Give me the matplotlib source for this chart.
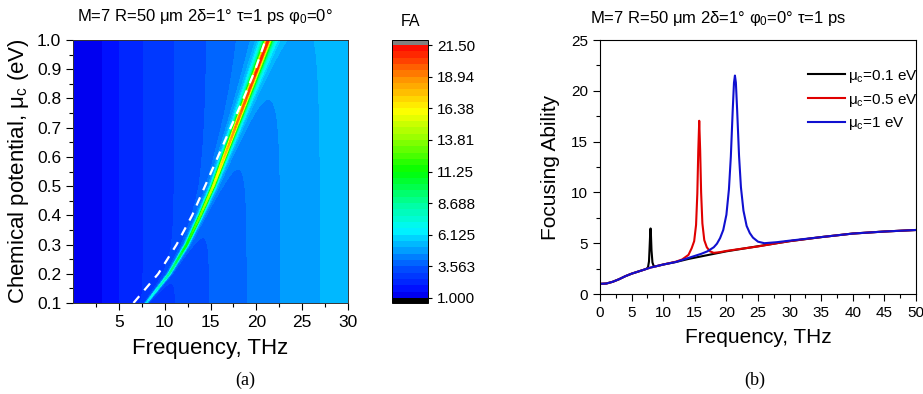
import numpy as np
import matplotlib
matplotlib.use("Agg")
import matplotlib.pyplot as plt
from matplotlib.colors import LinearSegmentedColormap

plt.rcParams['font.family'] = ['Liberation Sans', 'DejaVu Sans']
plt.rcParams['mathtext.fontset'] = 'custom'
plt.rcParams['mathtext.rm'] = 'Liberation Sans'
plt.rcParams['mathtext.it'] = 'Liberation Sans:italic'

# --- (a) map: values ---
# background FA vs frequency (far from the resonance)
base_f = [0, 1, 2, 3, 4, 5, 6, 7, 8, 9, 10, 12, 14, 16, 18, 20, 22, 25, 28, 30]
base_fa = [1.0, 1.03, 1.2, 1.45, 1.75, 2.0, 2.2, 2.4, 2.6, 2.75, 2.9, 3.15, 3.45,
           3.7, 3.95, 4.2, 4.5, 4.9, 5.2, 5.35]
# resonance ridge per chemical potential
mu_rows = [0.1, 0.2, 0.3, 0.4, 0.5, 0.6, 0.7, 0.8, 0.9, 1.0]
ridge_f = [8.0, 10.5, 12.4, 13.9, 15.3, 16.5, 17.7, 18.9, 20.1, 21.3]
ridge_peak = [6.4, 9.0, 11.5, 13.5, 15.5, 17.5, 19.0, 20.0, 20.7, 21.0]
ridge_width = [0.1, 0.12, 0.14, 0.16, 0.18, 0.21, 0.24, 0.27, 0.3, 0.33]
# white dashed line
dash_f = [6.6, 9.3, 11.3, 13.0, 14.4, 15.8, 17.2, 18.6, 19.9, 21.0]
dash_mu = [0.1, 0.2, 0.3, 0.4, 0.5, 0.6, 0.7, 0.8, 0.9, 1.0]

cbar_ticks = [1.0, 3.5625, 6.125, 8.6875, 11.25, 13.8125, 16.375, 18.9375, 21.5]
cbar_labels = ['1.000', '3.563', '6.125', '8.688', '11.25', '13.81', '16.38', '18.94', '21.50']

# --- (b) curves ---
black_f = [0, 1, 2, 3, 4, 5, 6, 7, 7.4, 7.6, 7.75, 7.85, 7.95, 8.0, 8.05, 8.15, 8.3, 8.5,
           8.8, 9, 10, 12, 14, 16, 18, 20, 22, 25, 28, 30, 35, 40, 45, 50]
black_v = [1.0, 1.03, 1.2, 1.45, 1.75, 2.0, 2.2, 2.4, 2.5, 2.65, 3.2, 4.6, 6.1, 6.45, 6.0,
           4.3, 3.1, 2.75, 2.72, 2.75, 2.9, 3.15, 3.45, 3.7, 3.95, 4.2, 4.4, 4.7, 5.0, 5.2,
           5.6, 5.95, 6.15, 6.3]
red_f = [0, 1, 2, 3, 4, 5, 6, 7, 8, 9, 10, 12, 13, 14, 14.5, 14.9, 15.2, 15.4, 15.55, 15.7,
         15.85, 16.0, 16.2, 16.5, 16.9, 17.4, 18, 19, 20, 22, 25, 28, 30, 35, 40, 45, 50]
red_v = [1.0, 1.03, 1.2, 1.45, 1.75, 2.0, 2.2, 2.4, 2.6, 2.75, 2.9, 3.18, 3.4, 3.85, 4.5,
         5.2, 6.8, 9.9, 14.1, 17.05, 14.1, 10.0, 6.95, 5.3, 4.6, 4.2, 4.05, 4.12, 4.24,
         4.42, 4.68, 5.0, 5.2, 5.6, 5.95, 6.15, 6.3]
blue_f = [0, 1, 2, 3, 4, 5, 6, 7, 8, 9, 10, 12, 14, 16, 17, 18, 18.5, 19, 19.5, 20, 20.4,
          20.7, 21.0, 21.2, 21.35, 21.5, 21.7, 22.0, 22.3, 22.7, 23.2, 23.7, 24.2, 25, 26,
          28, 30, 35, 40, 45, 50]
blue_v = [1.0, 1.03, 1.2, 1.45, 1.75, 2.0, 2.2, 2.4, 2.6, 2.75, 2.9, 3.15, 3.55, 3.95, 4.2,
          4.6, 4.95, 5.5, 6.3, 7.8, 10.3, 13.5, 18.1, 20.8, 21.5, 20.8, 18.1, 13.6, 10.5,
          8.2, 6.7, 6.0, 5.55, 5.15, 5.0, 5.1, 5.25, 5.6, 5.95, 6.15, 6.3]

# build the map from the readings: background + resonance ridge
f = np.linspace(0, 30, 1501)
mu = np.linspace(0.1, 1.0, 181)
F, MU = np.meshgrid(f, mu)
bg = np.interp(F, base_f, base_fa)
fr = np.interp(MU, mu_rows, ridge_f)
pk = np.interp(MU, mu_rows, ridge_peak)
gm = np.interp(MU, mu_rows, ridge_width)
FA = bg + (pk - np.interp(fr, base_f, base_fa)) * gm**2 / ((F - fr)**2 + gm**2)
FA = np.clip(FA, 1.001, None)

anchors = [(1.0, (0, 0, 0.7)), (1.3, (0, 0, 1)), (3.5, (0, 0.33, 1)), (6.5, (0, 0.97, 1)),
           (8.7, (0, 1, 0.6)), (11.3, (0, 1, 0)), (13.8, (0.55, 1, 0)), (16.2, (1, 1, 0)),
           (18.9, (1, 0.55, 0)), (21.5, (1, 0, 0))]
cmap = LinearSegmentedColormap.from_list(
    'fa', [((v - 1.0) / 20.5, c) for v, c in anchors])
cmap.set_under('black')
cmap.set_over('#808080')
levels = np.linspace(1.0, 21.5, 41)

fig = plt.figure(figsize=(9.23, 3.94), dpi=100)
W, H = 923.0, 394.0

ax1 = fig.add_axes([73 / W, 1 - 303 / H, 275 / W, 263 / H])
cs = ax1.contourf(F, MU, FA, levels=levels, cmap=cmap, extend='both')
ax1.plot(dash_f, dash_mu, color='white', lw=1.6, dashes=(4, 3.5))
ax1.set_xlim(0, 30)
ax1.set_ylim(0.1, 1.0)
ax1.set_xticks([5, 10, 15, 20, 25, 30])
ax1.set_xticks([2.5, 7.5, 12.5, 17.5, 22.5, 27.5], minor=True)
ax1.set_yticks(np.round(np.arange(0.1, 1.01, 0.1), 1))
ax1.set_yticks(np.arange(0.15, 1.0, 0.1), minor=True)
ax1.yaxis.set_major_formatter(plt.FormatStrFormatter('%.1f'))
ax1.tick_params(which='both', direction='out', width=0.8, labelsize=12.5)
ax1.tick_params(which='major', length=5)
ax1.tick_params(which='minor', length=3)
for s in ax1.spines.values():
    s.set_linewidth(0.7)
    s.set_color('#333333')
ax1.set_xlabel('Frequency, THz', fontsize=16, labelpad=6)
ax1.set_ylabel(r'Chemical potential, $\mathregular{\mu_c}$ (eV)', fontsize=16, labelpad=4)

cax = fig.add_axes([392 / W, 1 - 303 / H, 36 / W, 263 / H])
cb = fig.colorbar(cs, cax=cax, ticks=cbar_ticks, extendrect=True, extendfrac=0.02)
cb.ax.set_yticklabels(cbar_labels)
cb.ax.tick_params(direction='out', length=3, width=0.8, labelsize=11)
cb.outline.set_linewidth(0.7)
cb.ax.set_title('FA', fontsize=11.5, pad=14)

fig.text(205 / W, 1 - 16 / H,
         r'M=7 R=50 $\mathregular{\mu}$m 2δ=1° τ=1 ps $\mathregular{φ_0}$=0°',
         fontsize=12, ha='center', va='center')

# --- (b) ---
ax2 = fig.add_axes([600 / W, 1 - 294 / H, 316 / W, 254 / H])
ax2.plot(black_f, black_v, color='black', lw=1.5, label=r'$\mathregular{\mu_c}$=0.1 eV')
ax2.plot(red_f, red_v, color='#e00000', lw=1.5, label=r'$\mathregular{\mu_c}$=0.5 eV')
ax2.plot(blue_f, blue_v, color='#1010d0', lw=1.5, label=r'$\mathregular{\mu_c}$=1 eV')
ax2.set_xlim(0, 50)
ax2.set_ylim(0, 25)
ax2.set_xticks(np.arange(0, 51, 5))
ax2.set_xticks(np.arange(2.5, 50, 5), minor=True)
ax2.set_yticks(np.arange(0, 26, 5))
ax2.set_yticks(np.arange(2.5, 25, 5), minor=True)
ax2.tick_params(which='both', direction='out', width=0.8, labelsize=11)
ax2.tick_params(which='major', length=5)
ax2.tick_params(which='minor', length=3)
for s in ax2.spines.values():
    s.set_linewidth(0.8)
ax2.set_xlabel('Frequency, THz', fontsize=15, labelpad=6)
ax2.set_ylabel('Focusing Ability', fontsize=15, labelpad=8)
ax2.legend(loc='upper left', bbox_to_anchor=(0.64, 0.915), frameon=False, fontsize=11,
           handlelength=2.4, handletextpad=0.2, labelspacing=0.45, borderaxespad=0)

fig.text(718 / W, 1 - 19 / H,
         r'M=7 R=50 $\mathregular{\mu}$m 2δ=1° $\mathregular{φ_0}$=0° τ=1 ps',
         fontsize=12, ha='center', va='center')

fig.text(245 / W, 1 - 380 / H, '(a)', family='Liberation Serif', fontsize=13,
         ha='center', va='center')
fig.text(755 / W, 1 - 380 / H, '(b)', family='Liberation Serif', fontsize=13,
         ha='center', va='center')

fig.savefig('out.png', dpi=100)
